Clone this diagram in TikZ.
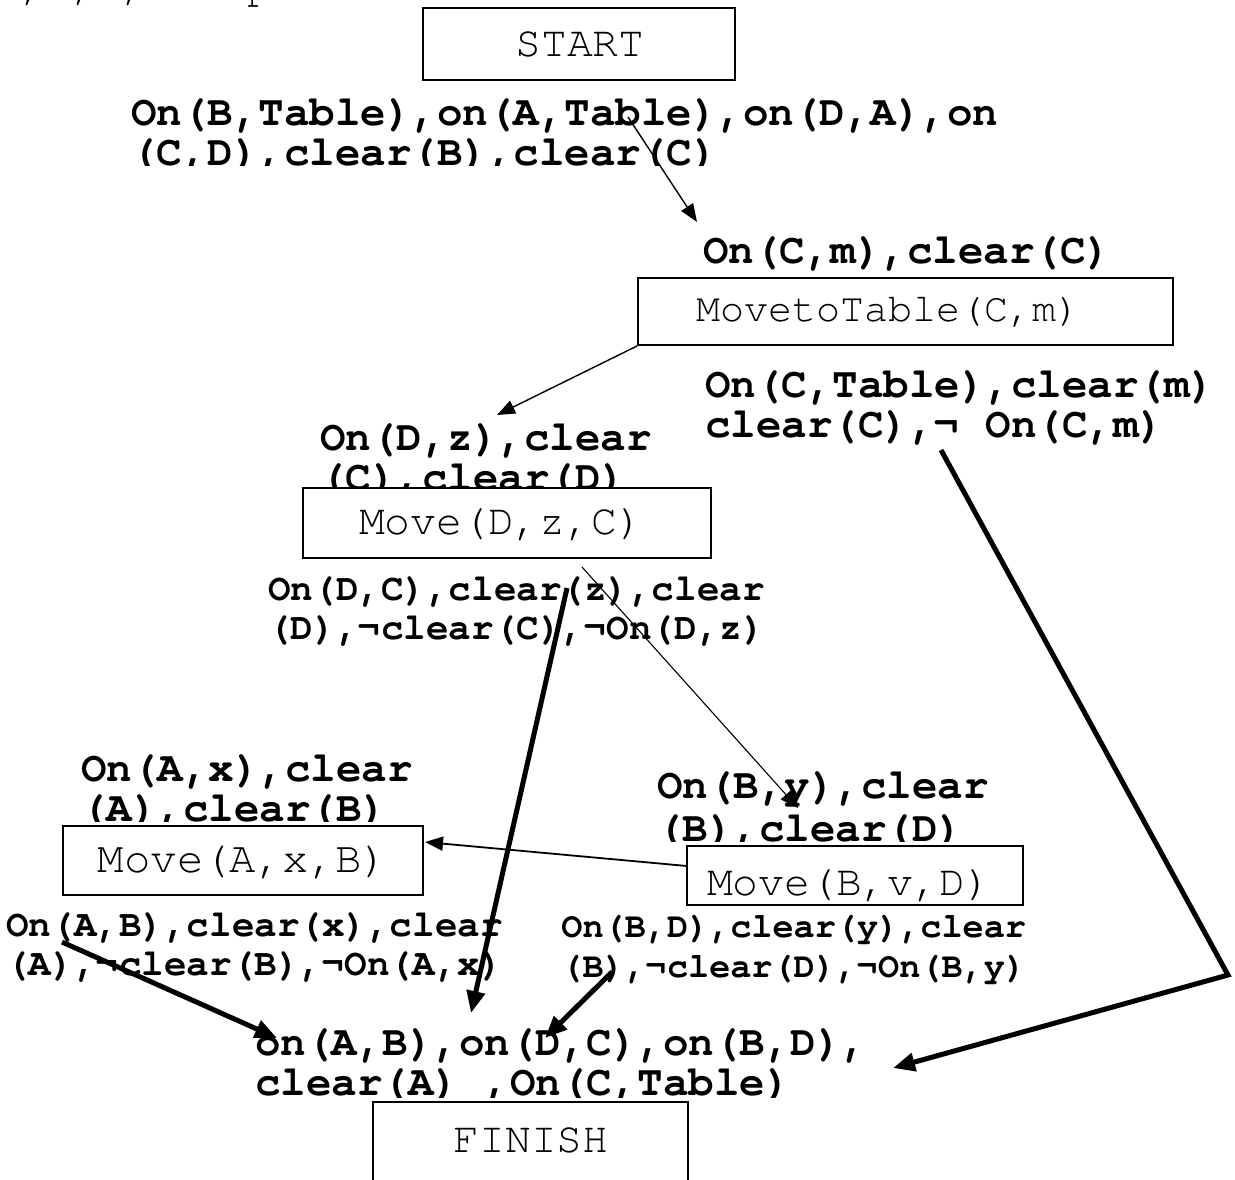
\documentclass[tikz,border=0pt]{standalone}
\usepackage{fontspec}
\newfontfamily\cour{texgyrecursor-regular.otf}[BoldFont=texgyrecursor-bold.otf]
\usetikzlibrary{arrows.meta}

\tikzset{
  stepbox/.style={draw=black, line width=1pt, fill=white, inner sep=0pt},
  boxtext/.style={font=\cour\fontsize{21.5pt}{21.5pt}\selectfont, inner sep=0pt, anchor=base},
  cond/.style={font=\cour\bfseries\fontsize{21.25pt}{21pt}\selectfont, inner sep=0pt, anchor=base west},
  effsmall/.style={cond, font=\cour\bfseries\fontsize{18.8pt}{19pt}\selectfont},
  thinlink/.style={line width=0.7pt, -{Triangle[length=9pt,width=7pt]}},
  heavylink/.style={line width=2.5pt, -{Triangle[length=11pt,width=9pt]}},
}

\begin{document}
\begin{tikzpicture}[x=0.5pt, y=-0.5pt]
\useasboundingbox (0,0) rectangle (1235,1179);

% caption line running off the top edge
\node[font=\cour\fontsize{21pt}{21pt}\selectfont, inner sep=0pt, anchor=base west]
  (caption) at (-5,-1) {A,B,C,D represent blocks};

% ---------- preconditions / effects ----------
\begin{scope}
  \clip (100,80) rectangle (1020,165);
  \node[cond] (initA) at (131,125) {On(B,Table),on(A,Table),on(D,A),on};
  \node[cond] (initB) at (131,165) {(C,D),clear(B),clear(C)};
\end{scope}

\node[cond] (mttpre) at (703,263) {On(C,m),clear(C)};
\node[cond] (mtteffA) at (705,397) {On(C,Table),clear(m)};
\node[cond] (mtteffB) at (705,437) {clear(C),¬ On(C,m)};

\begin{scope}
  \clip (300,400) rectangle (700,489);
  \node[cond] (dzcpreA) at (320,450) {On(D,z),clear};
  \node[cond] (dzcpreB) at (320,490) {(C),clear(D)};
\end{scope}

\node[effsmall] (dzceffA) at (268,600) {On(D,C),clear(z),clear};
\node[effsmall] (dzceffB) at (268,639) {(D),¬clear(C),¬On(D,z)};

\begin{scope}
  \clip (60,740) rectangle (450,821);
  \node[cond] (axbpreA) at (81,781) {On(A,x),clear};
  \node[cond] (axbpreB) at (81,821) {(A),clear(B)};
\end{scope}

\begin{scope}
  \clip (640,750) rectangle (1020,841);
  \node[cond] (bydpreA) at (657,798) {On(B,y),clear};
  \node[cond] (bydpreB) at (657,841) {(B),clear(D)};
\end{scope}

\node[effsmall] (axbeffA) at (6,936) {On(A,B),clear(x),clear};
\node[effsmall] (axbeffB) at (6,975) {(A),¬clear(B),¬On(A,x)};

\node[effsmall, font=\cour\bfseries\fontsize{17.6pt}{18pt}\selectfont] (bydeffA) at (561,937) {On(B,D),clear(y),clear};
\node[effsmall, font=\cour\bfseries\fontsize{17.6pt}{18pt}\selectfont] (bydeffB) at (561,977) {(B),¬clear(D),¬On(B,y)};

\begin{scope}
  \clip (230,1000) rectangle (900,1097);
  \node[cond] (goalA) at (255,1055) {on(A,B),on(D,C),on(B,D),};
  \node[cond] (goalB) at (255,1095) {clear(A) ,On(C,Table)};
\end{scope}

% ---------- step boxes ----------
\node[stepbox, minimum width=156pt, minimum height=36pt] (start) at (579,44) {};
\node[boxtext] (starttxt) at (580,56) {START};

\node[stepbox, minimum width=267.5pt, minimum height=33.5pt] (mtt) at (905.5,311.5) {};
\node[boxtext, font=\cour\fontsize{20pt}{20pt}\selectfont] (mtttxt) at (888,321) {MovetoTable(C,m)};

\node[stepbox, minimum width=204pt, minimum height=35pt] (mdzc) at (507,523) {};
\node[boxtext] (mdzctxt) at (501,534) {Move(D,z,C)};

\node[stepbox, minimum width=180pt, minimum height=34.5pt] (maxb) at (243,860.5) {};
\node[boxtext, font=\cour\fontsize{22pt}{22pt}\selectfont] (maxbtxt) at (243,872) {Move(A,x,B)};

\node[stepbox, minimum width=168pt, minimum height=29.5pt] (mbvd) at (855,875.5) {};
\node[boxtext] (mbvdtxt) at (849,895) {Move(B,v,D)};

\node[stepbox, minimum width=157.5pt, minimum height=50pt] (finish) at (530.5,1152) {};
\node[boxtext] (finishtxt) at (531,1152) {FINISH};

% ---------- connector end points ----------
\coordinate (a1s) at (628,117);
\coordinate (a1e) at (697,222);
\coordinate (a2e) at (497,415);
\coordinate (a3s) at (582,567);
\coordinate (a3e) at (798,808);
\coordinate (a4s) at (687,866);
\coordinate (a4e) at (425,842);
\coordinate (t1s) at (567,588);
\coordinate (t1e) at (471,1013);
\coordinate (t2s) at (941,450);
\coordinate (t2m) at (1228,975);
\coordinate (t2e) at (893,1068);
\coordinate (t3s) at (62,942);
\coordinate (t3e) at (277,1038);
\coordinate (t4s) at (612,972);
\coordinate (t4e) at (545,1038);

% ---------- ordering links ----------
\draw[thinlink] (a1s) -- (a1e);
\draw[thinlink] (mtt.south west) -- (a2e);
\draw[thinlink, line width=0.55pt] (a3s) -- (a3e);
\draw[thinlink, line width=0.9pt] (a4s) -- (a4e);

% ---------- causal links into FINISH ----------
\draw[heavylink] (t1s) -- (t1e);
\draw[heavylink] (t2s) -- (t2m) -- (t2e);
\draw[heavylink] (t3s) -- (t3e);
\draw[heavylink] (t4s) -- (t4e);
\end{tikzpicture}
\end{document}
